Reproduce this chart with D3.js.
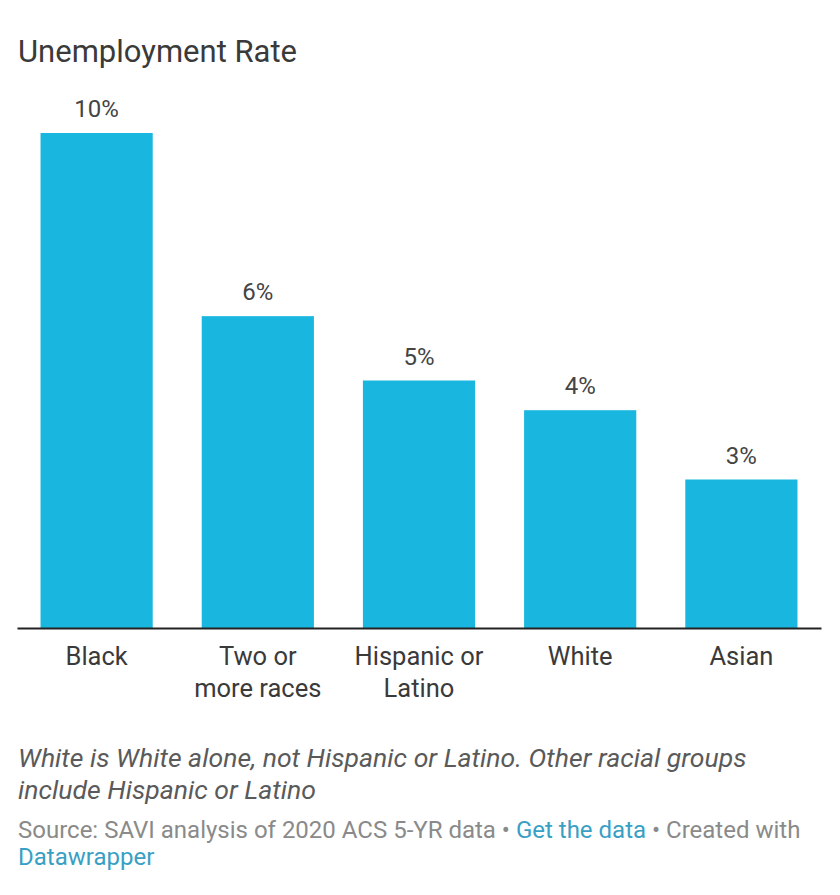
<!DOCTYPE html>
<html>
<head>
<meta charset="utf-8">
<script src="https://cdn.jsdelivr.net/npm/d3@7"></script>
<style>
  html, body { margin: 0; padding: 0; background: #fff; }
  svg { display: block; font-family: Roboto, "Noto Sans", sans-serif; }
</style>
</head>
<body>
<svg id="chart" width="840" height="895"></svg>
<script>
// Unemployment rate by race/ethnicity (percent)
const categories = [["Black"], ["Two or", "more races"], ["Hispanic or", "Latino"], ["White"], ["Asian"]];
const rates = [10.0, 6.3, 5.0, 4.4, 3.0];
const title = "Unemployment Rate";
const noteLines = ["White is White alone, not Hispanic or Latino. Other racial groups", "include Hispanic or Latino"];

const svg = d3.select("#chart");
const baseY = 628, topY = 133;
const left = 17, right = 821;

const keys = categories.map(c => c.join(" "));
const x = d3.scaleBand().domain(keys).range([left, right]).paddingInner(0.304).paddingOuter(0.146);
const y = d3.scaleLinear().domain([0, d3.max(rates)]).range([baseY, topY]);

// Title
svg.append("text")
  .attr("x", 18).attr("y", 62)
  .attr("font-size", 31).attr("font-weight", 400).attr("fill", "#3a3a3a")
  .text(title);

// Bars
const g = svg.append("g");
g.selectAll("rect").data(rates).join("rect")
  .attr("x", (d, i) => x(keys[i]))
  .attr("y", d => y(d))
  .attr("width", x.bandwidth())
  .attr("height", d => baseY - y(d))
  .attr("fill", "#19b7df");

// Value labels
g.selectAll("text.val").data(rates).join("text")
  .attr("class", "val")
  .attr("x", (d, i) => x(keys[i]) + x.bandwidth() / 2)
  .attr("y", d => y(d) - 16)
  .attr("text-anchor", "middle")
  .attr("font-size", 24).attr("fill", "#444")
  .text(d => d3.format(".0f")(d) + "%");

// Baseline axis
const axis = svg.append("g").attr("transform", `translate(0,${baseY})`)
  .call(d3.axisBottom(x).tickSize(0).tickFormat(""));
axis.select(".domain").attr("stroke", "#222").attr("stroke-width", 2);

// Category labels
categories.forEach((lines, i) => {
  const cx = x(keys[i]) + x.bandwidth() / 2;
  const t = svg.append("text")
    .attr("text-anchor", "middle")
    .attr("font-size", 25.5).attr("fill", "#3a3a3a");
  lines.forEach((ln, j) => {
    t.append("tspan").attr("x", cx).attr("y", 665 + j * 32).text(ln);
  });
});

// Notes
noteLines.forEach((ln, j) => {
  svg.append("text")
    .attr("x", 18).attr("y", 767 + j * 32)
    .attr("font-size", 26.6).attr("font-style", "italic").attr("fill", "#5a5a5a")
    .text(ln);
});

// Source line
const src = svg.append("text").attr("x", 18).attr("y", 838).attr("font-size", 24).attr("fill", "#8a8a8a");
src.append("tspan").text("Source: SAVI analysis of 2020 ACS 5-YR data • ");
src.append("tspan").attr("fill", "#3a9fc4").text("Get the data");
src.append("tspan").text(" • Created with");
svg.append("text").attr("x", 18).attr("y", 865).attr("font-size", 24).attr("fill", "#3a9fc4").text("Datawrapper");
</script>
</body>
</html>
